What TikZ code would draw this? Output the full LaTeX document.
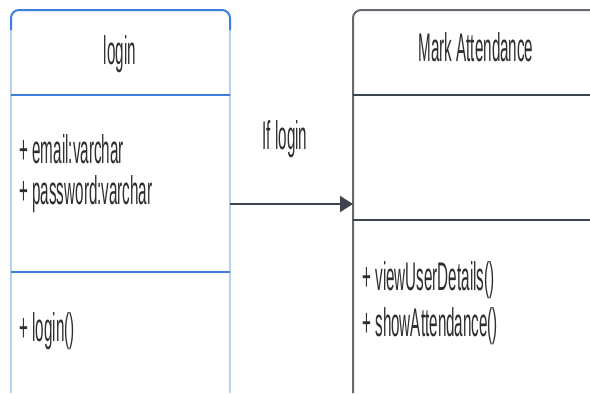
\documentclass[tikz,border=0pt]{standalone}
\usepackage{fontspec}
\setmainfont[FakeStretch=0.38]{Liberation Sans}
\usepackage{xcolor}
\usepackage{tikz}
\usetikzlibrary{arrows.meta}

\definecolor{umlblue}{HTML}{3C7FDD}
\definecolor{umlpale}{HTML}{B4D0F2}
\definecolor{umlgray}{HTML}{3E444C}
\definecolor{umltext}{HTML}{2E2E2E}

\begin{document}
\begin{tikzpicture}[x=0.5pt,y=-0.5pt,
	txt/.style={font=\fontsize{20}{23}\selectfont, text=umltext, inner sep=0pt}]
	\useasboundingbox (0,0) rectangle (590,393);
	
	% Klasse login
	\draw[umlpale, line width=1pt] (11,26) -- (11,393);
	\draw[umlpale, line width=1pt] (230,26) -- (230,393);
	\draw[umlblue, line width=1pt, rounded corners=4pt] (11,30) -- (11,10) -- (230,10) -- (230,30);
	\foreach \y in {95,272}
	\draw[umlblue, line width=1pt] (11,\y) -- (230,\y);
	\node[txt, anchor=base] (login) at (120,64) {login};
	\node[txt, anchor=base west] (email) at (19,163) {+ email:varchar};
	\node[txt, anchor=base west] (password) at (19,204) {+ password:varchar};
	\node[txt, anchor=base west] (loginop) at (19,341) {+ login()};
	
	% Klasse Mark Attendance
	\draw[umlgray!80, line width=1pt, rounded corners=4pt] (353,393) -- (353,10) -- (592,10);
	\foreach \y in {95,220}
	\draw[umlgray, line width=1pt] (353,\y) -- (592,\y);
	\node[txt, anchor=base] (mark) at (476,61) {Mark Attendance};
	\node[txt, anchor=base west] (viewop) at (362,290) {+ viewUserDetails()};
	\node[txt, anchor=base west] (showop) at (362,336) {+ showAttendance()};
	
	% Verbindung
	\coordinate (loginout) at (230,204);
	\coordinate (markin) at (353,204);
	\draw[umlgray, line width=1pt, -{Triangle[length=6.5pt,width=8pt]}] (loginout) -- (markin);
	\node[txt, anchor=base] (iflogin) at (285,149) {If login};
	
\end{tikzpicture}
\end{document}
